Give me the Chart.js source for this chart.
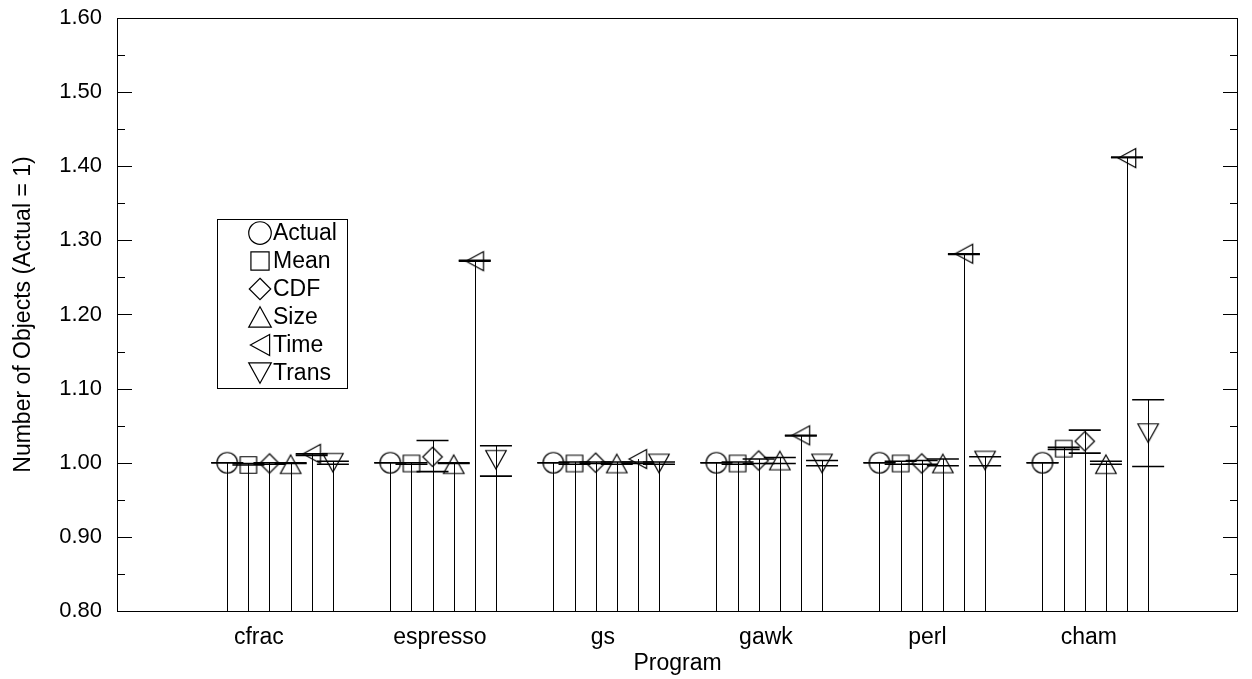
<!DOCTYPE html>
<html><head><meta charset="utf-8">
<script src="https://cdn.jsdelivr.net/npm/chart.js@4.4.0/dist/chart.umd.min.js"></script>
<style>html,body{margin:0;padding:0;background:#fff;}canvas{display:block;}</style>
</head><body>
<canvas id="c" width="1252" height="679"></canvas>
<script>
// ---------- data ----------
const programs = ['cfrac', 'espresso', 'gs', 'gawk', 'perl', 'cham'];
const seriesNames = ['Actual', 'Mean', 'CDF', 'Size', 'Time', 'Trans'];
const yTickValues = [0.80, 0.90, 1.00, 1.10, 1.20, 1.30, 1.40, 1.50, 1.60];

const actualVal = [1.000, 1.000, 1.000, 1.000, 1.000, 1.000];
const actualLo  = [1.000, 1.000, 1.000, 1.000, 1.000, 1.000];
const actualHi  = [1.000, 1.000, 1.000, 1.000, 1.000, 1.000];

const meanVal = [0.997, 0.999, 0.999, 0.999, 0.999, 1.019];
const meanLo  = [0.997, 0.998, 0.998, 0.998, 0.998, 1.018];
const meanHi  = [0.999, 1.000, 1.001, 1.001, 1.002, 1.021];

const cdfVal = [0.999, 1.008, 1.000, 1.003, 0.999, 1.029];
const cdfLo  = [0.998, 0.988, 0.999, 0.999, 0.998, 1.013];
const cdfHi  = [1.000, 1.030, 1.001, 1.005, 1.003, 1.044];

const sizeVal = [0.998, 0.998, 0.999, 1.003, 0.999, 0.998];
const sizeLo  = [0.999, 0.999, 0.998, 0.999, 0.996, 0.998];
const sizeHi  = [1.000, 1.000, 1.001, 1.007, 1.005, 1.002];

const timeVal = [1.012, 1.272, 1.005, 1.037, 1.282, 1.411];
const timeLo  = [1.010, 1.272, 0.999, 1.036, 1.281, 1.412];
const timeHi  = [1.012, 1.273, 1.001, 1.037, 1.282, 1.412];

const transVal = [1.000, 1.004, 0.999, 0.999, 1.003, 1.040];
const transLo  = [0.998, 0.982, 0.998, 0.996, 0.996, 0.995];
const transHi  = [1.002, 1.023, 1.001, 1.003, 1.008, 1.085];

const seriesVals = [actualVal, meanVal, cdfVal, sizeVal, timeVal, transVal];
const seriesLos  = [actualLo, meanLo, cdfLo, sizeLo, timeLo, transLo];
const seriesHis  = [actualHi, meanHi, cdfHi, sizeHi, timeHi, transHi];

// ---------- styling / layout ----------
const FONT = "'Liberation Sans', Arial, Helvetica, sans-serif";
const offsets = [-0.324, -0.194, -0.065, 0.065, 0.194, 0.324];
const labelShift = [-0.13, -0.02, -0.02, -0.02, -0.03, -0.04];
const shapes = ['circle', 'square', 'diamond', 'up', 'left', 'down'];

function drawShape(ctx, shape, cx, cy, k) {
  ctx.beginPath();
  if (shape === 'circle') {
    ctx.arc(cx, cy, 10.25 * k, 0, Math.PI * 2);
  } else if (shape === 'square') {
    const h = 8.25 * k; ctx.rect(cx - h, cy - h, 2 * h, 2 * h);
  } else if (shape === 'diamond') {
    const h = 9.75 * k;
    ctx.moveTo(cx, cy - h); ctx.lineTo(cx + h, cy); ctx.lineTo(cx, cy + h); ctx.lineTo(cx - h, cy); ctx.closePath();
  } else if (shape === 'up') {
    const w = 10.25 * k, h = 9.25 * k;
    ctx.moveTo(cx, cy - h); ctx.lineTo(cx + w, cy + h); ctx.lineTo(cx - w, cy + h); ctx.closePath();
  } else if (shape === 'down') {
    const w = 10.25 * k, h = 9.25 * k;
    ctx.moveTo(cx, cy + h); ctx.lineTo(cx + w, cy - h); ctx.lineTo(cx - w, cy - h); ctx.closePath();
  } else if (shape === 'left') {
    const w = 8.75 * k, h = 9.5 * k;
    ctx.moveTo(cx - w, cy); ctx.lineTo(cx + w, cy - h); ctx.lineTo(cx + w, cy + h); ctx.closePath();
  }
  ctx.stroke();
}

function makeMarker(shape, k) {
  const c = document.createElement('canvas');
  c.width = 30; c.height = 30;
  const g = c.getContext('2d');
  g.strokeStyle = '#000'; g.lineWidth = 1.2;
  drawShape(g, shape, 15, 15, k);
  return c;
}

const datasets = seriesNames.map((name, s) => ({
  label: name,
  data: programs.map((p, i) => ({ x: i + 1 + offsets[s], y: seriesVals[s][i] })),
  showLine: false,
  pointStyle: makeMarker(shapes[s], 1),
  pointRadius: 10,
  pointHoverRadius: 10,
  borderColor: '#000',
  backgroundColor: 'rgba(0,0,0,0)'
}));

const overlay = {
  id: 'overlay',
  beforeDatasetsDraw(chart) {
    const { ctx, chartArea: a, scales: { x, y } } = chart;
    ctx.save();
    ctx.strokeStyle = '#000';
    seriesNames.forEach((n, s) => {
      programs.forEach((p, i) => {
        const px = x.getPixelForValue(i + 1 + offsets[s]);
        const lx = Math.round(px) + 0.5;
        const top = y.getPixelForValue(Math.max(seriesVals[s][i], seriesHis[s][i]));
        ctx.lineWidth = 1;
        ctx.beginPath(); ctx.moveTo(lx, top); ctx.lineTo(lx, a.bottom); ctx.stroke();
        ctx.lineWidth = 1.6;
        [seriesLos[s][i], seriesHis[s][i]].forEach(v => {
          const py = y.getPixelForValue(v);
          ctx.beginPath(); ctx.moveTo(px - 16, py); ctx.lineTo(px + 16, py); ctx.stroke();
        });
      });
    });
    ctx.restore();
  },
  afterDraw(chart) {
    const { ctx, chartArea: a, scales: { y } } = chart;
    ctx.save();
    ctx.strokeStyle = '#000';
    ctx.lineWidth = 1;
    ctx.strokeRect(a.left + 0.5, a.top + 0.5, a.right - a.left - 1, a.bottom - a.top);
    // inward ticks left & right
    for (let k = 0; k <= 16; k++) {
      const v = 0.80 + k * 0.05;
      const py = Math.round(y.getPixelForValue(v)) + 0.5;
      const len = (k % 2 === 0) ? 15 : 8;
      ctx.beginPath();
      ctx.moveTo(a.left, py); ctx.lineTo(a.left + len, py);
      ctx.moveTo(a.right, py); ctx.lineTo(a.right - len, py);
      ctx.stroke();
    }
    // legend box
    const bx = a.left + 100, by = a.top + 201, bw = 130, bh = 169;
    ctx.fillStyle = '#fff';
    ctx.fillRect(bx, by, bw, bh);
    ctx.strokeRect(bx + 0.5, by + 0.5, bw, bh);
    ctx.fillStyle = '#000';
    ctx.font = '23px ' + FONT;
    ctx.textBaseline = 'middle';
    ctx.textAlign = 'left';
    ctx.lineWidth = 1.2;
    seriesNames.forEach((n, s) => {
      const cy = by + 14 + s * 28;
      drawShape(ctx, shapes[s], bx + 43, cy, 1.1);
      ctx.fillText(n, bx + 56, cy + 1);
    });
    ctx.restore();
  }
};

new Chart(document.getElementById('c'), {
  type: 'scatter',
  data: { datasets },
  options: {
    responsive: false,
    animation: false,
    events: [],
    layout: { padding: { left: 0, right: 14, top: 18, bottom: 0 } },
    plugins: { legend: { display: false }, tooltip: { enabled: false } },
    scales: {
      x: {
        type: 'linear', min: 0, max: 6.875,
        grid: { display: false, drawTicks: false },
        border: { display: false },
        afterFit(scale) { scale.height = 68; scale.paddingLeft = 0; scale.paddingRight = 0; },
        afterBuildTicks(scale) { scale.ticks = programs.map((p, i) => ({ value: i + 1 + labelShift[i] })); },
        ticks: {
          autoSkip: false, maxRotation: 0, padding: 13, color: '#000',
          font: { family: FONT, size: 23 },
          callback: (v, i) => programs[i]
        },
        title: { display: true, text: 'Program', color: '#000', font: { family: FONT, size: 23 }, padding: { top: 0, bottom: 2 } }
      },
      y: {
        type: 'linear', min: 0.80, max: 1.60,
        grid: { display: false, drawTicks: false },
        border: { display: false },
        afterFit(scale) { scale.width = 117; scale.paddingTop = 0; scale.paddingBottom = 0; },
        afterBuildTicks(scale) { scale.ticks = yTickValues.map(v => ({ value: v })); },
        ticks: {
          padding: 15, color: '#000',
          font: { family: FONT, size: 22 },
          callback: v => v.toFixed(2)
        },
        title: { display: true, text: 'Number of Objects (Actual = 1)', color: '#000', font: { family: FONT, size: 23 }, padding: { top: 10, bottom: 0 } }
      }
    }
  },
  plugins: [overlay]
});
</script>
</body></html>
